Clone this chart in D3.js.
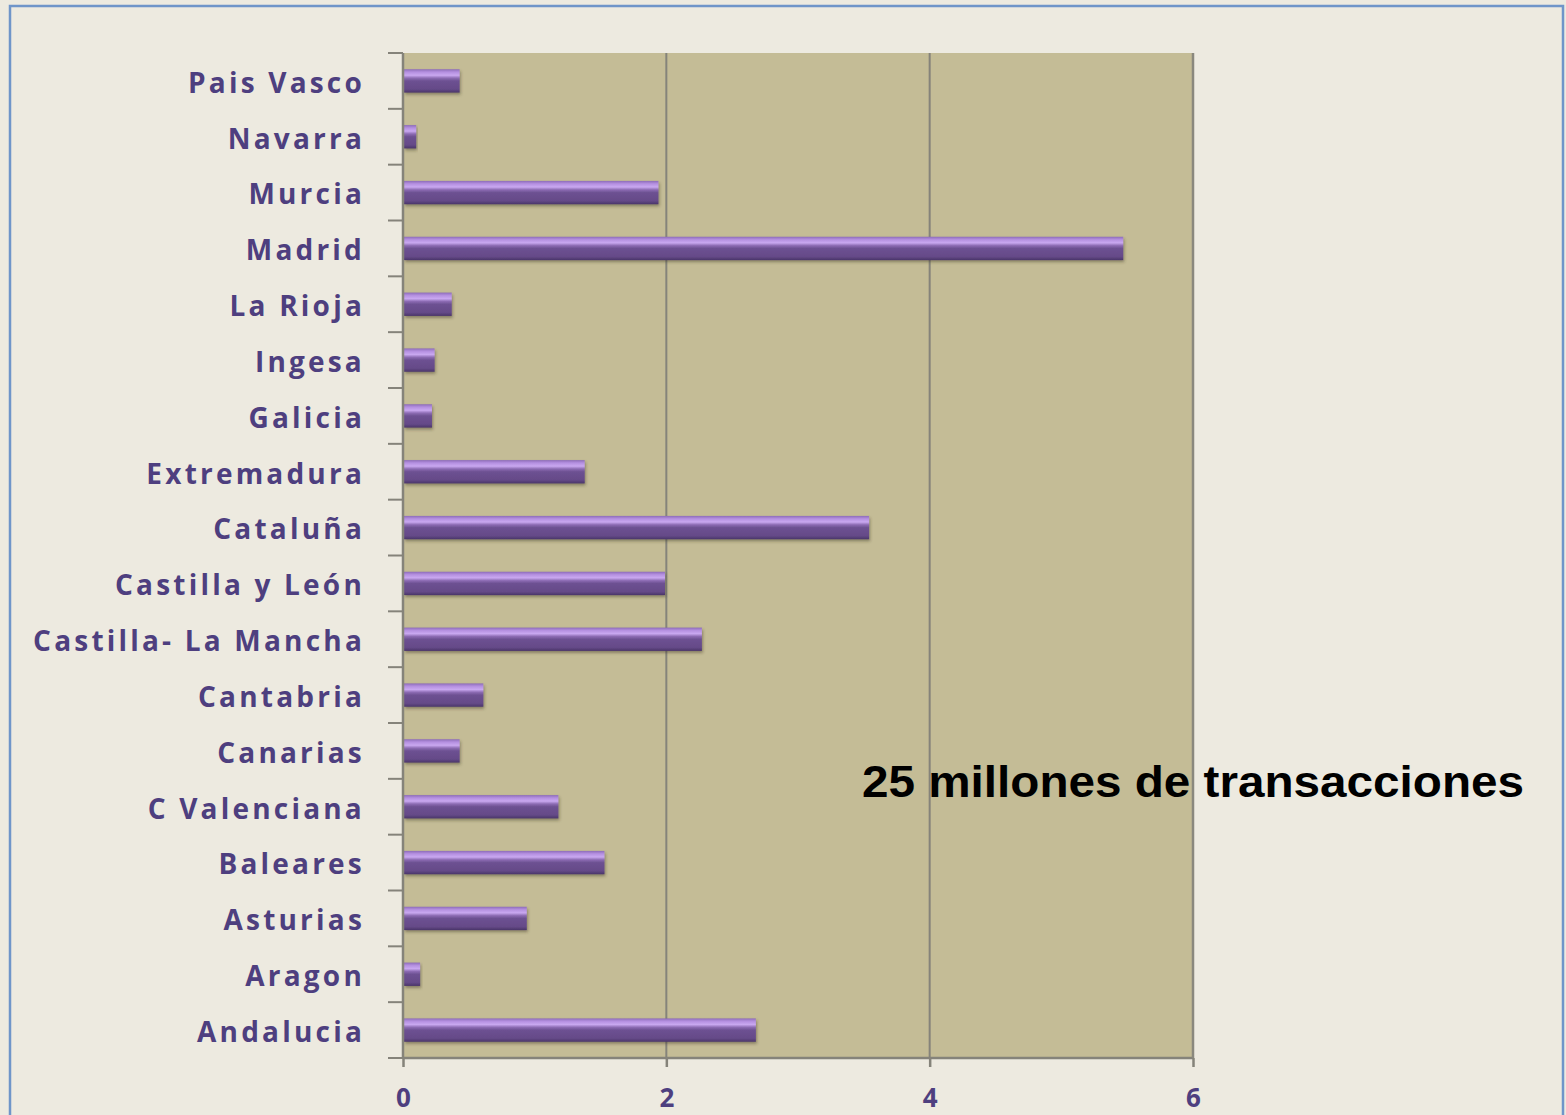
<!DOCTYPE html>
<html>
<head>
<meta charset="utf-8">
<script src="https://cdn.jsdelivr.net/npm/d3@7"></script>
<style>
  body { margin: 0; background: #fff; }
  svg { display: block; }
</style>
</head>
<body>
<svg id="chart"></svg>
<script>
// data, bottom to top as in the chart
const regions = ['Andalucia', 'Aragon', 'Asturias', 'Baleares', 'C Valenciana', 'Canarias',
  'Cantabria', 'Castilla- La Mancha', 'Castilla y León', 'Cataluña', 'Extremadura',
  'Galicia', 'Ingesa', 'La Rioja', 'Madrid', 'Murcia', 'Navarra', 'Pais Vasco'];
const values = [2.68, 0.13, 0.94, 1.53, 1.18, 0.43, 0.61, 2.27, 1.99, 3.54, 1.38,
  0.22, 0.24, 0.37, 5.47, 1.94, 0.10, 0.43];
const xTicks = [0, 2, 4, 6];
const note = '25 millones de transacciones';

const width = 1566;
const height = 1115;
const plot = { left: 403, top: 53, right: 1193, bottom: 1058 };

const svg = d3.select('#chart').attr('width', width).attr('height', height);

const defs = svg.append('defs');
const grad = defs.append('linearGradient')
  .attr('id', 'barGrad')
  .attr('x1', 0).attr('y1', 0).attr('x2', 0).attr('y2', 1);
[
  ['0%', '#8d6cb8'],
  ['12%', '#b48fe0'],
  ['26%', '#c9a8f0'],
  ['38%', '#8c6bb3'],
  ['50%', '#6d5192'],
  ['85%', '#654a88'],
  ['100%', '#4a3569'],
].forEach(([o, c]) => grad.append('stop').attr('offset', o).attr('stop-color', c));

const shadow = defs.append('filter').attr('id', 'shadow')
  .attr('x', '-5%').attr('y', '-30%').attr('width', '120%').attr('height', '170%');
shadow.append('feDropShadow')
  .attr('dx', 1).attr('dy', 2).attr('stdDeviation', 1.5)
  .attr('flood-color', '#3a3020').attr('flood-opacity', 0.45);

// page background and frame
svg.append('rect')
  .attr('x', 0).attr('y', 0).attr('width', width).attr('height', height)
  .attr('fill', '#edeae0');
svg.append('rect')
  .attr('x', 10).attr('y', 6).attr('width', 1553).attr('height', 1120)
  .attr('fill', 'none')
  .attr('stroke', '#6f95c9')
  .attr('stroke-width', 2.5);

const xScale = d3.scaleLinear()
  .domain([0, 6])
  .range([plot.left, plot.right]);

const yScale = d3.scaleBand()
  .domain(regions.slice().reverse())
  .range([plot.top, plot.bottom])
  .paddingInner(0.6)
  .paddingOuter(0.3);

// plot area
svg.append('rect')
  .attr('x', plot.left).attr('y', plot.top)
  .attr('width', plot.right - plot.left)
  .attr('height', plot.bottom - plot.top)
  .attr('fill', '#c4bc96');

// gridlines
svg.append('g')
  .selectAll('line')
  .data(xTicks.slice(1))
  .enter()
  .append('line')
  .attr('x1', (d) => xScale(d)).attr('x2', (d) => xScale(d))
  .attr('y1', plot.top).attr('y2', plot.bottom)
  .attr('stroke', '#85837a')
  .attr('stroke-width', 2);

// bars
svg.append('g')
  .selectAll('rect')
  .data(regions)
  .enter()
  .append('rect')
  .attr('x', xScale(0) + 1)
  .attr('y', (d) => yScale(d) - 0.5)
  .attr('width', (d, i) => xScale(values[i]) - xScale(0) - 1)
  .attr('height', yScale.bandwidth() + 1)
  .attr('fill', 'url(#barGrad)')
  .attr('filter', 'url(#shadow)');

// axes
const labelColor = '#4e3f7f';

const bandOuter = d3.scaleLinear().domain([0, regions.length]).range([plot.top, plot.bottom]);
svg.append('g')
  .selectAll('line')
  .data(d3.range(regions.length + 1))
  .enter()
  .append('line')
  .attr('x1', plot.left - 15).attr('x2', plot.left)
  .attr('y1', (d) => bandOuter(d)).attr('y2', (d) => bandOuter(d))
  .attr('stroke', '#85837a')
  .attr('stroke-width', 2);

const yAxis = d3.axisLeft(yScale).tickSize(0).tickPadding(38);
const gy = svg.append('g')
  .attr('transform', 'translate(' + plot.left + ', 0)')
  .call(yAxis);
gy.select('.domain')
  .attr('stroke', '#85837a')
  .attr('stroke-width', 2.5)
  .attr('d', 'M0,' + plot.top + 'V' + plot.bottom);
gy.selectAll('text')
  .attr('fill', labelColor)
  .attr('dy', '0.42em')
  .style('font-family', '"Open Sans", "DejaVu Sans", sans-serif')
  .style('font-weight', 'bold')
  .style('font-size', '28px')
  .style('letter-spacing', '3.2px');

const xAxis = d3.axisBottom(xScale).tickValues(xTicks).tickSize(9).tickPadding(22)
  .tickFormat(d3.format('d'));
const gx = svg.append('g')
  .attr('transform', 'translate(0, ' + plot.bottom + ')')
  .call(xAxis);
gx.select('.domain')
  .attr('stroke', '#85837a')
  .attr('stroke-width', 2.5)
  .attr('d', 'M' + plot.left + ',0H' + plot.right);
gx.selectAll('.tick line').attr('stroke', '#85837a').attr('stroke-width', 2.5);
gx.selectAll('text')
  .attr('fill', labelColor)
  .style('font-family', '"Open Sans", "DejaVu Sans", sans-serif')
  .style('font-weight', 'bold')
  .style('font-size', '26px');

// right edge of plot
svg.append('line')
  .attr('x1', plot.right).attr('x2', plot.right)
  .attr('y1', plot.top).attr('y2', plot.bottom)
  .attr('stroke', '#8a887e')
  .attr('stroke-width', 2.5);

// annotation
svg.append('text')
  .attr('x', 862)
  .attr('y', 797)
  .attr('fill', '#000')
  .attr('textLength', 662)
  .attr('lengthAdjust', 'spacingAndGlyphs')
  .style('font-family', '"Liberation Sans", Arial, sans-serif')
  .style('font-weight', 'bold')
  .style('font-size', '44px')
  .text(note);
</script>
</body>
</html>
